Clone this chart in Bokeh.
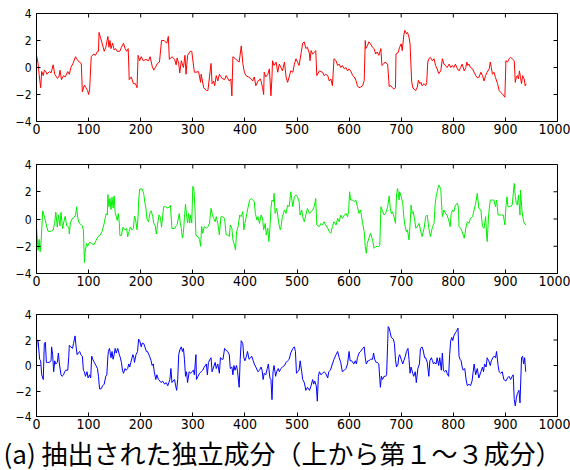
import math
from bokeh.plotting import figure
from bokeh.models import Range1d, FixedTicker, Title
from bokeh.layouts import column
from bokeh.embed import file_html
from bokeh.resources import INLINE

# ---------------- data ----------------
x1 = [0,3,5,8,10,13,15,18,20,25,
      28,32,35,40,43,45,48,52,55,60,
      63,66,70,72,75,78,82,86,88,92,
      95,98,100,102,105,110,113,117,119,120,
      123,126,130,133,137,139,141,143,146,149,
      152,155,160,163,167,170,173,176,178,182,
      186,190,193,195,198,201,205,210,215,218,
      222,225,228,232,236,240,245,250,253,255,
      260,265,268,270,273,275,278,282,285,287,
      290,295,298,303,306,311,315,316,321,326,
      329,332,335,337,340,342,345,348,351,356,
      361,364,370,373,375,377,383,389,393,394,
      396,399,402,407,412,415,418,421,425,430,
      434,436,437,440,444,447,450,452,453,456,
      460,463,466,469,472,476,479,482,485,488,
      492,495,498,501,504,508,511,514,517,520,
      524,525,527,530,533,536,538,543,549,552,
      555,559,562,565,568,571,575,578,581,584,
      587,591,594,597,600,603,607,610,613,616,
      619,622,626,629,631,632,635,638,641,645,
      648,651,654,657,661,663,666,669,674,677,
      680,683,686,689,690,694,697,700,702,705,
      707,710,712,715,717,720,722,724,728,731,
      733,736,738,740,744,747,749,751,753,756,
      760,763,766,769,772,776,779,782,785,788,
      792,795,798,801,804,808,811,814,817,821,
      824,826,828,830,833,837,840,843,846,849,
      853,856,859,862,865,869,871,873,875,878,
      881,885,888,891,894,897,899,901,904,907,
      910,913,917,919,921,923,925,927,929,931,
      933,936,938,940]
y1 = [0.9,0.3,-0.5,-1.5,-0.3,-0.6,-0.2,-0.3,-0.5,-0.3,
      -0.4,0.2,-0.5,-0.8,-0.7,-0.2,-0.9,-0.6,-0.7,-0.3,
      -0.5,0,0.3,0.5,0.8,0.6,0.4,0.3,-1.8,-1.3,
      -1.5,-1.7,-2.0,-1.6,0.8,1.0,0.9,1.2,1.2,2.6,
      2.2,1.8,1.2,1.5,2.3,1.5,2.0,1.4,1.8,1.3,
      1.4,1.2,1.2,1.5,1.8,1.4,1.2,1.4,-0.9,-0.7,
      -1.2,-1.2,-1.5,0.9,0.5,0.8,0.5,0.6,0.5,0.8,
      0.1,-0.2,0,0.3,0.4,2.0,2.0,1.8,2.3,0.6,
      0.8,0.6,0.2,0.7,0.3,-0.4,0.5,0,0.9,-0.5,
      0.9,1.2,1.2,-0.35,-0.35,-0.3,-1.1,-0.5,-1.5,-1.7,
      -1.7,-0.7,0.3,-1.2,-1.0,-1.35,-0.6,-1.0,-0.5,-0.8,
      -0.9,-0.6,-1.0,-0.85,-2.1,0.8,0.6,0.4,1.6,1.2,
      0.3,-0.35,-0.6,-0.7,-0.85,-1.0,-0.7,-1.35,-1.0,-0.85,
      -1.5,-2.0,-0.35,-0.7,-0.5,-0.1,-2.1,-0.7,0.5,0.15,
      0.4,-0.35,0.25,0,-0.25,0.4,-0.7,-1.1,-0.7,-0.25,
      -0.35,0.25,0.65,0.4,0.15,1.1,1.8,1.9,1.4,1.5,
      1.0,0.5,1.25,1.0,1.1,1.25,-0.6,-0.25,-0.35,-0.6,
      -0.5,-0.6,-1.0,-0.85,-1.35,0.65,0.5,0.15,0.25,0,
      0.15,-0.1,0,-0.25,-0.1,-0.25,-0.6,-0.7,-0.95,-1.35,
      -1.5,-1.45,-1.35,-0.95,2.0,1.4,1.6,1.9,1.75,1.5,
      1.4,1.0,1.15,0.9,1.4,0.15,0.25,0.4,0.25,-1.4,
      -1.35,-1.5,-1.6,-1.5,1.0,1.1,1.5,1.75,1.25,2.4,
      2.75,2.5,2.6,2.25,1.75,-1.0,-1.45,-1.6,-1.7,-1.45,
      -0.95,-1.2,-1.1,-1.35,-1.2,-1.35,-1.1,0.4,0.65,0.75,
      0.5,0.65,0.15,-0.1,-0.45,-0.25,0.65,0.25,0.15,0,
      0.25,0,0.15,0,0.25,-0.1,-0.25,0,0.25,-0.25,
      0,0.4,0.15,0.25,0,-0.1,-0.35,-0.6,-0.75,-0.75,
      -0.35,-0.6,-1.0,-0.6,-0.35,-0.1,0.4,0,-0.5,-0.35,
      -0.75,-1.2,-1.7,-1.85,-1.95,-2.1,-2.2,0.5,0.4,0.65,
      0.75,0.65,0.5,-1.1,-0.7,-0.6,-0.85,-0.25,-0.75,-1.2,
      -0.6,-0.85,-1.35,-1.2]

x2 = [0,3,5,7,8,12,15,18,22,28,
      32,35,37,40,42,45,47,50,52,55,
      58,62,63,65,68,72,75,77,79,82,
      85,88,90,92,93,96,98,102,106,110,
      114,118,122,126,128,130,132,134,136,137,
      139,141,143,145,147,149,151,153,155,157,
      159,160,163,166,170,173,175,178,180,183,
      186,188,190,193,195,196,198,203,206,208,
      210,212,215,218,220,223,225,228,230,232,
      235,238,240,244,248,252,255,257,260,265,
      268,270,272,274,276,278,280,282,284,286,
      288,290,292,294,296,298,300,302,304,306,
      310,313,315,317,319,322,326,329,332,335,
      337,340,343,345,348,351,354,357,361,364,
      367,370,372,375,377,380,382,384,387,390,
      393,396,398,400,402,405,409,412,415,418,
      420,423,425,428,431,434,436,439,441,444,
      446,448,450,452,455,456,458,461,463,465,
      468,469,472,476,479,482,485,488,492,495,
      498,501,504,506,509,511,514,517,520,524,
      527,530,533,536,538,543,546,549,552,555,
      559,562,565,568,571,575,578,581,584,587,
      591,594,597,599,601,603,607,610,613,616,
      619,622,626,629,631,633,635,638,641,645,
      648,651,654,657,659,661,664,667,670,674,
      677,679,681,683,686,689,691,693,696,697,
      700,703,705,707,710,712,715,717,719,721,
      723,726,728,731,734,737,740,744,747,750,
      753,756,760,763,765,767,769,772,776,777,
      779,782,785,788,792,794,796,799,801,804,
      808,810,811,814,817,821,824,827,830,833,
      837,840,843,846,849,853,856,859,862,864,
      865,868,871,875,878,881,883,886,891,896,
      899,901,903,905,909,913,917,919,921,923,
      925,928,929,932,934,936,940]
y2 = [-0.6,-2.3,-1.5,-2.4,-2.2,0.6,0.2,-0.3,-0.9,-0.9,
      -0.8,-0.3,0.5,-0.6,0.3,-0.5,0.5,-0.7,-0.3,0.2,
      -0.5,-0.6,-1.1,-0.3,0,0.1,0.3,0.9,0.1,-0.3,
      -0.4,-0.5,-0.8,-3.2,-2.5,-1.8,-2.0,-1.7,-1.8,-1.9,
      -1.6,-1.3,-1.2,-0.9,-0.6,-0.3,0.1,0.4,0.3,1.8,
      0.9,1.5,0.7,1.6,0.8,1.7,0.5,0.2,-0.1,0.4,
      -0.3,-1.2,-1.2,-0.6,-0.8,-0.7,-1.3,-0.9,-0.6,-0.8,
      -0.7,0.2,0,-0.8,0.2,1.3,2.2,2.2,1.8,1.2,
      0.8,0,-0.2,0.5,0.6,0.2,-0.3,-0.5,-1.1,-0.5,
      0.3,0.1,-0.6,0.9,0.9,0.8,0.9,1.0,-0.7,-0.7,
      -0.5,-0.4,0,0.4,-0.3,-0.7,-1.4,-1.0,0.1,1.1,
      0.3,-0.3,0.4,-0.3,0.3,-0.3,2.4,2.2,0.9,-1.2,
      -1.3,-1.5,-2.0,-0.55,-1.05,-0.56,-0.68,-0.56,-0.32,0.78,
      0.41,0.05,-0.2,0.17,-0.32,-1.17,0.17,0.17,0.05,-1.17,
      -1.17,-1.29,-0.44,-0.68,-1.54,-1.9,-2.27,-0.93,-0.56,0.29,
      0.17,0.54,-0.8,-0.32,0.05,0.66,1.39,1.51,1.39,1.27,
      0.41,-0.07,0.17,-0.32,0.29,0.05,-0.8,-0.32,-1.17,-0.68,
      -1.66,-0.68,0.78,1.39,1.27,1.88,0.41,0.78,0.29,-0.32,
      -0.8,-0.68,0.17,0.66,0.41,1.02,0.9,2.0,0.9,1.63,
      1.76,1.63,1.27,0.29,0.66,0.17,-0.2,0.29,0.78,0.41,
      0.54,0.66,0.9,1.51,-0.44,-0.56,-0.32,-0.44,-0.2,-0.44,
      -0.68,-0.93,-1.05,-0.56,-0.2,-0.44,0.05,-0.2,0.29,0.05,
      0.29,0.41,0.17,0.54,2.0,1.39,1.39,1.27,1.39,0.9,
      0.41,0.66,-0.32,-0.93,-2.02,-2.51,-1.78,-1.41,-1.05,-1.54,
      -2.15,-2.02,-2.02,-2.02,-1.9,0.9,0.6,0.3,0.4,0.9,
      1.7,0.8,0.4,0.54,0.17,-0.32,1.76,2.24,1.39,2.0,
      1.63,1.15,0.17,-0.44,-0.93,-0.8,-1.54,-0.44,1.02,0.41,
      0.54,-0.07,-0.68,-0.56,-0.32,-0.8,-1.29,-0.68,0.17,0.29,
      -0.68,-1.29,-0.56,-0.32,1.02,1.63,2.0,2.49,2.24,1.39,
      0.17,0.66,0.41,0.29,-0.2,-0.56,0.41,0.66,0.54,1.02,
      1.15,0.78,-0.56,-0.68,-0.93,-1.41,-0.68,-0.2,-0.32,0.05,
      0.17,0.66,1.15,1.88,0.78,0.66,-0.56,-0.68,0.17,-1.17,
      -1.66,0.41,1.39,1.39,1.39,0.9,1.39,0.29,0.29,0.29,
      -0.44,0.9,1.63,0.9,0.9,1.02,2.61,1.63,1.15,1.02,
      1.76,0.29,2.12,0.54,0.05,-0.32,-0.44]

x3 = [0,1,3,6,8,10,12,13,15,17,
      19,21,24,28,29,31,33,35,37,40,
      42,44,47,49,52,54,56,60,62,63,
      66,69,71,74,76,78,80,83,85,88,
      90,92,94,97,99,102,104,106,108,111,
      114,117,119,121,124,127,130,133,135,137,
      138,140,143,145,147,149,151,153,156,159,
      161,163,165,167,170,172,175,177,179,181,
      185,187,188,191,194,196,198,201,203,206,
      208,211,213,217,220,222,224,226,229,231,
      234,237,239,242,246,249,252,254,256,258,
      260,262,265,267,269,271,273,275,278,280,
      282,284,286,288,290,293,296,298,301,303,
      306,307,310,313,316,319,322,326,328,330,
      333,335,337,340,343,345,348,351,353,356,
      358,361,363,367,370,372,375,377,379,381,
      384,386,389,391,393,396,398,400,403,405,
      408,411,413,416,418,421,425,428,431,433,
      435,437,440,443,445,448,450,452,454,456,
      459,461,464,466,469,472,476,479,482,485,
      488,492,495,497,499,501,504,506,509,511,
      514,517,520,524,527,530,532,534,537,539,
      541,543,546,549,552,555,559,561,564,568,
      571,575,578,581,584,587,591,594,597,600,
      602,605,609,612,614,616,619,622,626,629,
      631,633,636,638,641,645,647,649,652,654,
      657,659,660,662,664,667,670,672,674,675,
      677,679,681,685,687,689,691,694,695,697,
      700,703,705,708,710,713,715,717,719,722,
      724,727,729,732,735,737,740,742,745,747,
      750,753,755,758,760,762,764,767,769,772,
      774,777,779,781,783,786,788,791,793,795,
      797,799,801,804,806,809,811,813,815,817,
      819,822,825,827,830,833,836,840,843,846,
      849,853,856,858,860,863,865,868,871,873,
      876,878,881,883,886,888,891,894,897,901,
      904,907,910,913,915,917,919,921,923,926,
      928,931,933,935,937,939]
y3 = [1.3,2.0,1.95,0.49,0.37,-0.73,-0.98,-1.1,1.71,1.83,
      0.24,0.24,0.24,0.37,1.46,0.85,-0.49,0.37,0.12,0.24,
      0.98,0.12,-0.73,-0.85,-0.73,-0.49,-0.37,-0.37,0.73,1.59,
      1.46,1.34,1.71,2.32,1.46,0.85,0.98,1.1,0.85,0.73,
      -0.37,-0.49,-0.85,-0.49,-0.98,-0.73,-0.98,0.73,0.49,0.24,
      0,-0.24,-0.85,-1.83,-1.83,-1.59,-1.46,-0.85,-0.73,0.73,
      1.1,1.34,0.61,1.1,0.49,0.85,1.34,0.98,1.34,0.85,
      0.61,0.24,-0.37,-0.61,-0.24,-0.37,-0.24,0.12,-0.12,0.24,
      0.85,0.61,0.24,0.85,1.1,2.07,1.95,1.46,1.76,1.71,
      1.46,1.1,1.1,0.73,0.37,0,0.12,-0.49,-1.1,-0.73,
      -1.1,-1.22,-1.34,-1.22,-1.46,-1.34,-1.59,-1.34,-1.1,-0.24,
      -1.34,-1.22,-1.1,-1.59,-1.95,-1.1,0.85,1.22,1.46,1.1,
      1.34,0.49,-0.85,-0.49,-1.34,-0.49,-0.61,-0.49,-0.37,-0.73,
      0.85,-1.1,-0.85,-0.61,-0.49,-0.37,-0.12,0.12,-0.73,0.24,
      0.49,0.61,-0.49,-0.12,0.24,-0.24,0.12,-0.61,0.61,0.49,
      0.49,1.34,1.22,1.1,0.85,-0.24,-0.12,-0.73,0,-0.37,
      0,-0.49,-1.71,0.49,1.95,1.71,0.61,0.37,0.73,1.1,
      0.49,0.61,0.73,0.37,0.12,-0.12,-0.49,-0.37,-0.12,-0.37,
      -1.1,-0.61,-0.73,-0.24,0.12,-0.98,-1.1,-2.68,-0.49,0,
      -0.85,-0.49,-0.24,-0.49,-0.24,-0.12,0,0.24,0.37,0.49,
      0.98,1.34,1.46,1.1,-0.61,-0.49,-0.37,0.37,-0.49,-1.1,
      -1.34,-1.95,-1.71,-1.95,-1.59,-1.1,-1.46,-1.22,-1.59,-2.8,
      -0.85,-0.49,-0.73,-0.61,-0.49,-0.61,-0.98,-0.49,-0.37,0.12,
      0.49,0.85,1.1,0.61,0.24,-0.49,-0.37,-0.24,0.12,1.1,
      0.37,0.37,0.12,0.37,0.12,0.61,0.98,1.1,1.34,1.46,
      0.61,0.12,0.37,0.37,0.49,0.49,0.98,0.49,0.24,0.24,
      0.12,-1.1,-1.71,-0.85,-1.1,-0.85,-0.85,-0.73,1.71,3.05,
      2.93,2.56,2.2,2.07,1.71,0.49,-0.12,0.12,0.61,0.85,
      0.49,0.12,0.37,0.73,1.1,1.34,0.49,-0.61,-0.12,-0.61,
      -0.85,-0.49,-1.34,-0.24,0.12,1.34,1.46,1.22,0.61,0.61,
      0.24,-0.85,0.37,0.61,0.37,0.12,0.24,0.12,0.61,0,
      0.61,-0.37,0.98,-0.37,-0.49,-0.37,-0.61,-0.85,0.85,1.95,
      2.2,1.95,2.32,2.56,2.68,2.93,0.73,0.49,0.37,-0.12,
      -0.37,-0.24,-1.22,-1.59,-1.46,-1.59,-1.22,0.12,-0.73,-0.24,
      -0.98,-0.49,-0.12,-0.49,0.12,-0.12,0.61,0.37,0,0.37,
      0.61,0.73,0.61,1.1,0,-0.49,-0.61,-0.49,-1.1,-1.22,
      -0.98,-0.85,-1.1,-0.85,-0.73,-2.68,-3.17,-2.56,-2.2,-1.95,
      -2.93,0.61,0.73,0.12,0.61,-0.49]

x_ticks = [0, 100, 200, 300, 400, 500, 600, 700, 800, 900, 1000]
y_ticks = [-4, -2, 0, 2, 4]
y_tick_labels = {-4: "\u22124", -2: "\u22122", 0: "0", 2: "2", 4: "4"}
caption = "(a) 抽出された独立成分（上から第１～３成分）"

series = [(x1, y1, "#ff0000"), (x2, y2, "#00ee00"), (x3, y3, "#0000ff")]

# ---------------- layout ----------------
TICK_FONT = "DejaVu Sans Condensed, Liberation Sans, sans-serif"
W = 570
LEFT, RIGHT = 36, 13
# (top border, frame height, bottom border) for each panel
borders = [(13, 108, 34), (9, 109, 34), (7, 110, 46)]

figs = []
for i, ((xs, ys, col), (bt, fh, bb)) in enumerate(zip(series, borders)):
    p = figure(width=W, height=bt + fh + bb,
               x_range=Range1d(x_ticks[0], x_ticks[-1]),
               y_range=Range1d(y_ticks[0], y_ticks[-1]),
               output_backend="svg", toolbar_location=None,
               min_border_left=LEFT, min_border_right=RIGHT,
               min_border_top=bt, min_border_bottom=bb)
    p.grid.visible = False
    p.outline_line_color = "black"
    p.outline_line_width = 1
    p.background_fill_color = "white"
    p.border_fill_color = "white"

    p.line(xs, ys, line_color=col, line_width=1)

    # inward ticks on the top and right edges of the frame
    p.ray(x=x_ticks, y=[y_ticks[-1]] * len(x_ticks), length=4,
          length_units="screen", angle=-math.pi / 2,
          line_color="black", line_width=1)
    p.ray(x=[x_ticks[-1]] * len(y_ticks), y=y_ticks, length=4,
          length_units="screen", angle=math.pi,
          line_color="black", line_width=1)

    for ax in (p.xaxis[0], p.yaxis[0]):
        ax.axis_line_color = "black"
        ax.major_tick_in = 4
        ax.major_tick_out = 0
        ax.minor_tick_in = 0
        ax.minor_tick_out = 0
        ax.major_tick_line_color = "black"
        ax.major_label_text_font = TICK_FONT
        ax.major_label_text_color = "black"
    p.xaxis.ticker = FixedTicker(ticks=x_ticks)
    p.yaxis.ticker = FixedTicker(ticks=y_ticks)
    p.yaxis.major_label_overrides = y_tick_labels
    p.xaxis.major_label_text_font_size = "14px"
    p.yaxis.major_label_text_font_size = "12px"
    p.xaxis.major_label_standoff = 2
    p.yaxis.major_label_standoff = 5

    if i == len(series) - 1:
        t = Title(text=caption, align="left", offset=-33,
                  text_font="Noto Sans CJK JP", text_font_size="26px",
                  text_font_style="normal", text_color="black", standoff=0)
        p.add_layout(t, "below")
    figs.append(p)

layout = column(*figs, spacing=0)
open("out.html", "w").write(file_html(layout, INLINE))
